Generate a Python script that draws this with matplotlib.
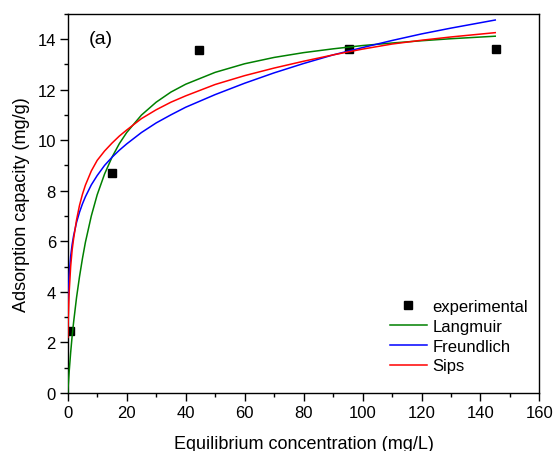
import matplotlib
matplotlib.use("Agg")
import matplotlib.pyplot as plt
from matplotlib.ticker import MultipleLocator

plt.rcParams['font.family'] = ['Liberation Sans', 'DejaVu Sans']

# measured adsorption data
ce_exp = [0.7, 15.1, 44.6, 95.3, 145.2]
qe_exp = [2.46, 8.71, 13.57, 13.62, 13.6]

# model curves (Ce in mg/L, qe in mg/g)
ce_langmuir = [0, 0.5, 1, 1.5, 2, 3, 4, 5, 6, 8, 10, 12.5, 15, 17.5, 20, 25, 30,
               35, 40, 50, 60, 70, 80, 90, 100, 110, 120, 130, 145]
qe_langmuir = [0, 0.85, 1.6, 2.25, 2.8, 3.78, 4.6, 5.32, 5.96, 7.0, 7.84, 8.66,
               9.32, 9.86, 10.3, 10.99, 11.5, 11.9, 12.21, 12.68, 13.02, 13.27,
               13.46, 13.61, 13.74, 13.84, 13.93, 14.01, 14.11]

ce_freundlich = [0.1, 0.2, 0.5, 1, 1.5, 2, 3, 4, 5, 6, 8, 10, 12.5, 15, 17.5, 20,
                 25, 30, 35, 40, 50, 60, 70, 80, 90, 100, 110, 120, 130, 145]
qe_freundlich = [3.4, 3.91, 4.71, 5.41, 5.87, 6.22, 6.75, 7.15, 7.48, 7.76, 8.23,
                 8.6, 9.0, 9.32, 9.6, 9.85, 10.3, 10.68, 11.0, 11.3, 11.8, 12.25,
                 12.66, 13.03, 13.37, 13.66, 13.94, 14.2, 14.43, 14.75]

ce_sips = [0.05, 0.2, 0.5, 1, 1.5, 2, 3, 4, 5, 6, 8, 10, 12.5, 15, 17.5, 20, 25,
           30, 35, 40, 50, 60, 70, 80, 90, 100, 110, 120, 130, 145]
qe_sips = [2.2, 3.0, 4.0, 5.0, 5.65, 6.1, 6.85, 7.42, 7.86, 8.22, 8.78, 9.2, 9.57,
           9.88, 10.16, 10.4, 10.85, 11.2, 11.5, 11.75, 12.2, 12.55, 12.85, 13.12,
           13.37, 13.6, 13.8, 13.95, 14.08, 14.25]

fig = plt.figure(figsize=(5.55, 4.52), dpi=100)
ax = fig.add_axes([0.122, 0.1283, 0.850, 0.8392])

ax.plot(ce_exp, qe_exp, 's', color='black', ms=5.5, label='experimental', zorder=2)
ax.plot(ce_langmuir, qe_langmuir, color='#008000', lw=1.1, label='Langmuir', zorder=3)
ax.plot(ce_freundlich, qe_freundlich, color='#0000ff', lw=1.1, label='Freundlich', zorder=3)
ax.plot(ce_sips, qe_sips, color='#ff0000', lw=1.1, label='Sips', zorder=3)

ax.set_xlim(0, 160)
ax.set_ylim(0, 15)
ax.xaxis.set_major_locator(MultipleLocator(20))
ax.xaxis.set_minor_locator(MultipleLocator(10))
ax.yaxis.set_major_locator(MultipleLocator(2))
ax.yaxis.set_minor_locator(MultipleLocator(1))
ax.tick_params(which='both', direction='out', top=False, right=False, labelsize=12, width=1.0)
ax.tick_params(which='major', length=5.5, pad=3)
ax.tick_params(which='minor', length=3)
for s in ax.spines.values():
    s.set_linewidth(1.0)

ax.set_xlabel('Equilibrium concentration (mg/L)', fontsize=13, labelpad=11)
ax.set_ylabel('Adsorption capacity (mg/g)', fontsize=13, labelpad=5)
ax.text(0.045, 0.935, '(a)', transform=ax.transAxes, fontsize=14, va='center', ha='left')

ax.legend(loc='upper left', bbox_to_anchor=(390 / 555, 1 - 300 / 452),
          bbox_transform=fig.transFigure, frameon=False, fontsize=12,
          handlelength=2.2, handletextpad=0.35, labelspacing=0.29,
          borderpad=0, borderaxespad=0, numpoints=1)

fig.savefig('out.png', dpi=100)
